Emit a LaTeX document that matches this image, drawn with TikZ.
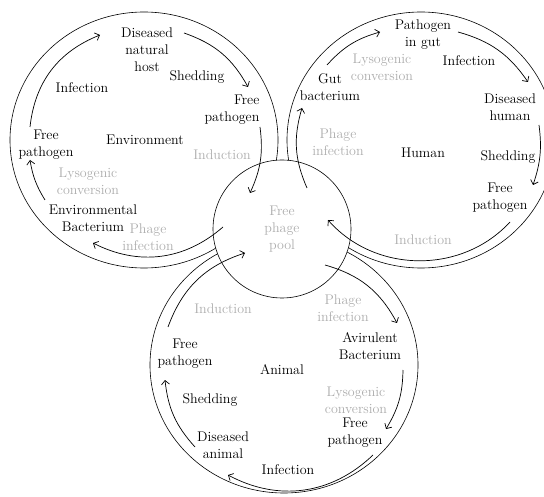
\documentclass[tikz,border=0pt]{standalone}
\usetikzlibrary{arrows.meta}
\definecolor{phagegray}{gray}{0.68}
\begin{document}
\begin{tikzpicture}[x=1pt,y=-1pt,font=\fontsize{14}{17}\selectfont,
	>={Straight Barb[length=4pt,width=8pt]},
	every node/.style={align=center,inner sep=1pt},
	pale/.style={text=phagegray},
	ring/.style={line width=0.6pt},
	flow/.style={->,line width=0.7pt}]
	
	\clip (0,0) rectangle (544,497);
	\coordinate (env) at (144,140);
	\coordinate (hum) at (421,140);
	\coordinate (ani) at (284,365);
	\draw[ring] (env) ellipse[x radius=134,y radius=128];
	\draw[ring] (hum) ellipse[x radius=134,y radius=128];
	\draw[ring] (ani) ellipse[x radius=134,y radius=128];
	\node[pale,draw=black,ring,fill=white,circle,minimum size=138pt] (pool) at (282,229) {Free\\phage\\pool};
	
	\node[] (envlab) at (145,140) {Environment};
	\node[] (envhost) at (147,50) {Diseased\\natural\\host};
	\node[] (envshed) at (197,77) {Shedding};
	\node[] (envinf) at (82,88) {Infection};
	\node[align=right] (envfreeA) at (232,110) {Free\\pathogen};
	\node[pale] (envind) at (222,155) {Induction};
	\node[] (envfreeB) at (46,145) {Free\\pathogen};
	\node[pale] (envlyso) at (88,181) {Lysogenic\\conversion};
	\node[] (envbact) at (93,218) {Environmental\\Bacterium};
	\node[pale] (envphage) at (148,237) {Phage\\infection};
	
	\node[] (humlab) at (423,153) {Human};
	\node[] (humpath) at (423,35) {Pathogen\\in gut};
	\node[pale] (humlyso) at (382,67) {Lysogenic\\conversion};
	\node[] (huminf) at (469,61) {Infection};
	\node[] (humgut) at (330,87) {Gut\\bacterium};
	\node[] (humdis) at (510,107) {Diseased\\human};
	\node[pale] (humphage) at (338,142) {Phage\\infection};
	\node[] (humshed) at (508,157) {Shedding};
	\node[] (humfree) at (500,198) {Free\\pathogen};
	\node[pale] (humind) at (423,240) {Induction};
	
	\node[] (anilab) at (282,370) {Animal};
	\node[pale] (aniind) at (223,309) {Induction};
	\node[pale] (aniphage) at (343,308) {Phage\\infection};
	\node[] (anivir) at (370,346) {Avirulent\\Bacterium};
	\node[] (anifreeA) at (185,354) {Free\\pathogen};
	\node[] (anished) at (210,400) {Shedding};
	\node[pale] (anilyso) at (356,400) {Lysogenic\\conversion};
	\node[] (anifreeB) at (355,433) {Free\\pathogen};
	\node[] (anidis) at (223,445) {Diseased\\animal};
	\node[] (aniinf) at (288,470) {Infection};
	
	\coordinate (e1a) at (30,127);   \coordinate (e1b) at (100,35);
	\coordinate (e2a) at (184,33);   \coordinate (e2b) at (248,87);
	\coordinate (e3a) at (260,127);  \coordinate (e3b) at (250,193);
	\coordinate (e4a) at (223,227);  \coordinate (e4b) at (93,243);
	\coordinate (e5a) at (45,200);   \coordinate (e5b) at (30,160);
	\draw[flow] (e1a) to[bend left=31] (e1b);
	\draw[flow] (e2a) to[bend left=21] (e2b);
	\draw[flow] (e3a) to[bend left=16] (e3b);
	\draw[flow] (e4a) to[bend left=34] (e4b);
	\draw[flow] (e5a) to[bend left=11] (e5b);
	
	\coordinate (h1a) at (327,65);   \coordinate (h1b) at (380,32);
	\coordinate (h2a) at (458,32);   \coordinate (h2b) at (528,82);
	\coordinate (h3a) at (539,125);  \coordinate (h3b) at (533,185);
	\coordinate (h4a) at (510,222);  \coordinate (h4b) at (328,220);
	\coordinate (h5a) at (307,188);  \coordinate (h5b) at (302,108);
	\draw[flow] (h1a) to[bend left=16] (h1b);
	\draw[flow] (h2a) to[bend left=20] (h2b);
	\draw[flow] (h3a) to[bend left=13] (h3b);
	\draw[flow] (h4a) to[bend left=48] (h4b);
	\draw[flow] (h5a) to[bend left=20] (h5b);
	
	\coordinate (a1a) at (168,327);  \coordinate (a1b) at (245,253);
	\coordinate (a2a) at (325,265);  \coordinate (a2b) at (397,323);
	\coordinate (a3a) at (403,370);  \coordinate (a3b) at (386,429);
	\coordinate (a4a) at (373,455);  \coordinate (a4b) at (228,475);
	\coordinate (a5a) at (195,447);  \coordinate (a5b) at (165,380);
	\draw[flow] (a1a) to[bend left=26] (a1b);
	\draw[flow] (a2a) to[bend left=23] (a2b);
	\draw[flow] (a3a) to[bend left=15] (a3b);
	\draw[flow] (a4a) to[bend left=36] (a4b);
	\draw[flow] (a5a) to[bend left=18] (a5b);
\end{tikzpicture}
\end{document}
